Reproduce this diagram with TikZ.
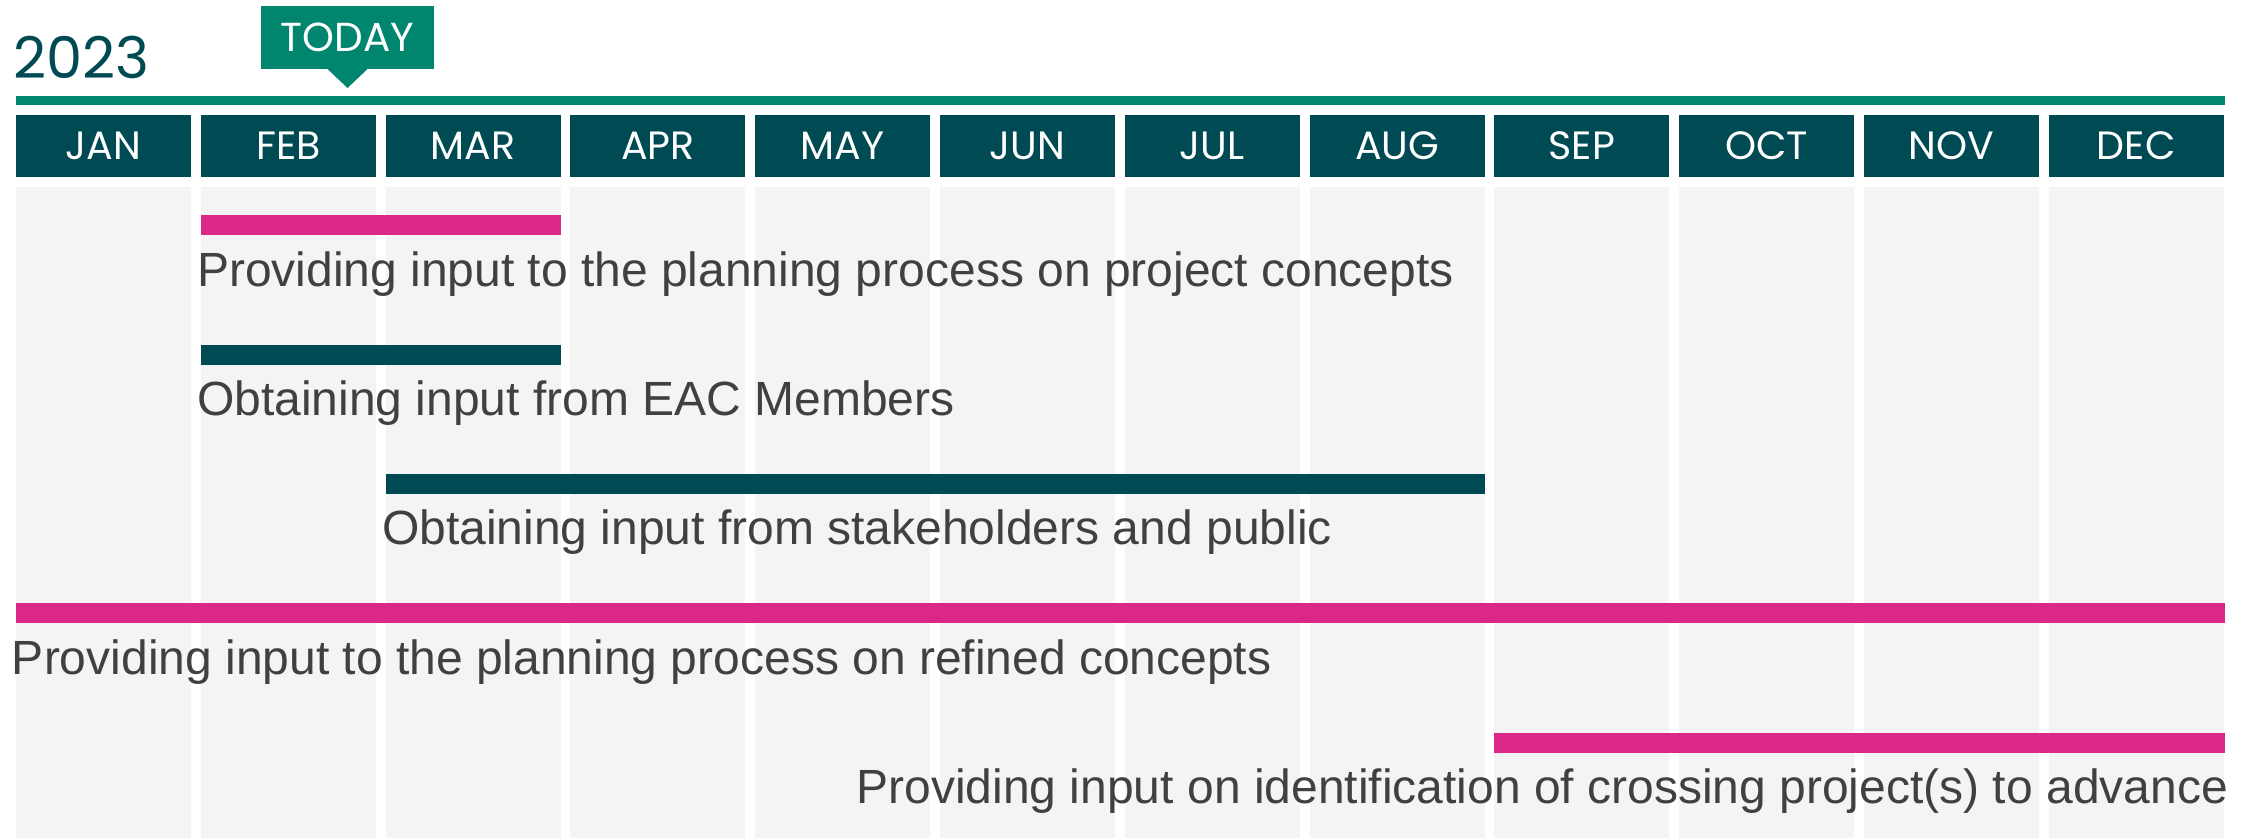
\documentclass[tikz,border=0pt]{standalone}
\usepackage{fontspec}
\setmainfont{Liberation Sans}
\newfontfamily\geofont{Poppins}
\usetikzlibrary{calc}
\definecolor{cDark}{HTML}{004A53}
\definecolor{cGreen}{HTML}{00856F}
\definecolor{cPink}{HTML}{DB2888}
\definecolor{cGrey}{HTML}{F4F4F4}
\definecolor{cText}{HTML}{404040}
\begin{document}
\begin{tikzpicture}[x=1pt,y=-1pt,
  monthbox/.style={anchor=north west, fill=cDark, text=white, inner sep=0pt, outer sep=0pt,
    minimum width=175pt, minimum height=62pt, font=\geofont\fontsize{39.5}{44}\selectfont},
  colbox/.style={anchor=north west, fill=cGrey, inner sep=0pt, outer sep=0pt,
    minimum width=175pt, minimum height=651pt},
  barbox/.style={anchor=north west, fill=#1, inner sep=0pt, outer sep=0pt, minimum height=20pt},
  lbl/.style={inner sep=0pt, outer sep=0pt, text=cText, font=\fontsize{48}{56}\selectfont},
  todaybox/.style={fill=cGreen, text=white, inner sep=0pt, outer sep=0pt,
    minimum width=173pt, minimum height=63pt, font=\geofont\fontsize{40.5}{44}\selectfont}]
\useasboundingbox (0,0) rectangle (2254,838);
\fill[white] (0,0) rectangle (2254,838);
% month headers and grey columns
\foreach \m [count=\i from 0] in {JAN,FEB,MAR,APR,MAY,JUN,JUL,AUG,SEP,OCT,NOV,DEC} {
  \pgfmathsetmacro\xl{16+184.8*\i}
  \node[colbox] (c\i) at (\xl,187) {};
  \node[monthbox] (m\i) at (\xl,115) {\m};
}
% year
\node[anchor=base west, inner sep=0pt, text=cDark, font=\geofont\fontsize{57.5}{62}\selectfont] (year) at (13,78) {2023};
% green rule
\fill[cGreen] (16,96) rectangle (2225,105);
% today marker
\node[todaybox] (today) at (347.5,37.5) {TODAY};
\fill[cGreen] ($(today.south)+(-20,0)$) -- ($(today.south)+(0,19)$) -- ($(today.south)+(20,0)$) -- cycle;
% bars
\node[barbox=cPink, minimum width=359.6pt] (bar1) at (201,215) {};
\node[barbox=cDark, minimum width=359.6pt] (bar2) at (201,345) {};
\node[barbox=cDark, minimum width=1099pt] (bar3) at (385.6,474) {};
\node[barbox=cPink, minimum width=2208.8pt] (bar4) at (16,603) {};
\node[barbox=cPink, minimum width=730.4pt] (bar5) at (1494.4,733) {};
% labels
\node[lbl, anchor=base west] (t1) at (197,286) {Providing input to the planning process on project concepts};
\node[lbl, anchor=base west] (t2) at (197,415) {Obtaining input from EAC Members};
\node[lbl, anchor=base west] (t3) at (382,544) {Obtaining input from stakeholders and public};
\node[lbl, anchor=base west] (t4) at (12,674) {Providing input to the planning process on refined concepts};
\node[lbl, anchor=base east] (t5) at (2228,803) {Providing input on identification of crossing project(s) to advance};
\end{tikzpicture}
\end{document}
